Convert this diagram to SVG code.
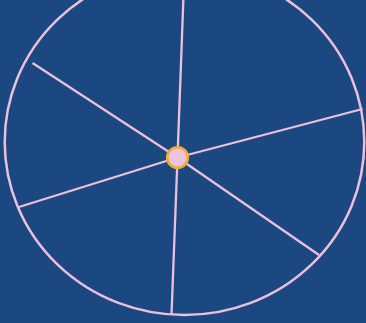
<svg xmlns="http://www.w3.org/2000/svg" width="366" height="323" viewBox="0 0 366 323">
  <style>
    .rim { fill: none; stroke: #ecbfdc; stroke-width: 2.5; }
    .spoke { stroke: #ecbfdc; stroke-width: 2.3; stroke-linecap: butt; }
    .hub { fill: #ecc3dc; stroke: #f2aa38; stroke-width: 2.6; }
  </style>
  <rect x="0" y="0" width="366" height="323" fill="#1b4880"/>
  <g id="rim">
    <ellipse class="rim" cx="184.5" cy="142" rx="179.8" ry="173"/>
  </g>
  <g id="connectors">
    <line class="spoke" x1="177.5" y1="157.5" x2="184.5" y2="-31"/>
    <line class="spoke" x1="177.5" y1="157.5" x2="362.5" y2="109"/>
    <line class="spoke" x1="177.5" y1="157.5" x2="319" y2="255"/>
    <line class="spoke" x1="177.5" y1="157.5" x2="171.5" y2="315"/>
    <line class="spoke" x1="177.5" y1="157.5" x2="19" y2="207"/>
    <line class="spoke" x1="177.5" y1="157.5" x2="32.5" y2="63"/>
  </g>
  <g id="hub">
    <circle class="hub" cx="177.5" cy="157.5" r="10.3"/>
  </g>
</svg>
